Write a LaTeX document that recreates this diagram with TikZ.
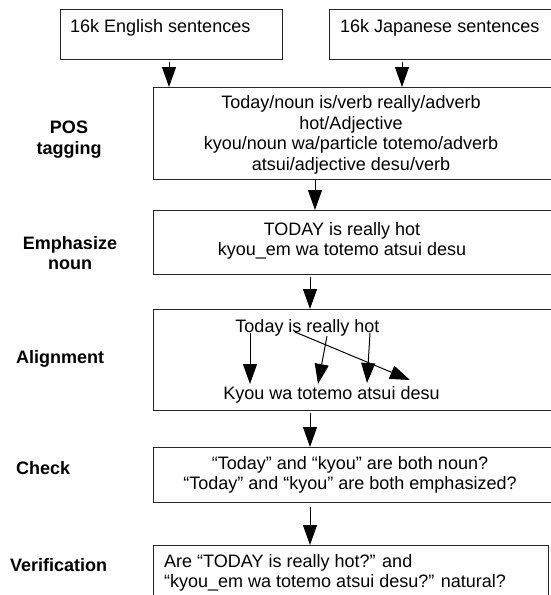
\documentclass[tikz,border=0pt]{standalone}
\usepackage{fontspec}
\setmainfont{Liberation Sans}
\usetikzlibrary{arrows.meta}
\begin{document}
\begin{tikzpicture}[x=1pt,y=-1pt,
  box/.style={draw=black!85, line width=1pt, anchor=north west, inner sep=0pt},
  txt/.style={font=\fontsize{18}{20.5}\selectfont, inner sep=0pt, text=black, align=center},
  lbl/.style={font=\fontsize{18}{20.5}\selectfont\bfseries, inner sep=0pt, text=black, align=center},
  arr/.style={line width=1pt, draw=black, -{Triangle[length=20pt 0 0,width=14pt 0 0]}},
]
\useasboundingbox (0,0) rectangle (551,595);
\clip (0,0) rectangle (551,595);

% boxes
\node[box, minimum width=222pt, minimum height=50pt] (box1) at (60,9) {};
\node[box, minimum width=240pt, minimum height=50pt] (box2) at (329,9) {};
\node[box, minimum width=420pt, minimum height=92pt] (pos) at (153,87) {};
\node[box, minimum width=420pt, minimum height=64pt] (emph) at (153,210) {};
\node[box, minimum width=420pt, minimum height=101pt] (align) at (153,309) {};
\node[box, minimum width=420pt, minimum height=55pt] (check) at (153,447) {};
\node[box, minimum width=395pt, minimum height=70pt] (verif) at (153,545) {};

% box texts
\node[txt, anchor=base west] (t1) at (70,32.3) {16k English sentences};
\node[txt, anchor=base west] (t2) at (340,32.3) {16k Japanese sentences};
\node[txt] (tpos) at (351,135) {Today/noun is/verb really/adverb\\hot/Adjective\\kyou/noun wa/particle totemo/adverb\\atsui/adjective desu/verb};
\node[txt] (temph) at (342,241) {TODAY is really hot\\kyou\_em wa totemo atsui desu};
\node[txt, anchor=base] (ten) at (307.5,332.5) {Today is really hot};
\node[txt, anchor=base] (tja) at (331.5,399.5) {Kyou wa totemo atsui desu};
\node[txt] (tcheck) at (350,475) {“Today” and “kyou” are both noun?\\“Today” and “kyou” are both emphasized?};
\node[txt, align=left, anchor=west] (tverif) at (164,573) {Are “TODAY is really hot?” and\\“kyou\_em wa totemo atsui desu?” natural?};

% side labels
\node[lbl] (lpos) at (69,139.5) {POS\\tagging};
\node[lbl] (lemph) at (70,253) {Emphasize\\noun};
\node[lbl, anchor=base west] (lalign) at (16,363.5) {Alignment};
\node[lbl, anchor=base west] (lcheck) at (16,474) {Check};
\node[lbl, anchor=base west] (lverif) at (10,571) {Verification};

% connectors between stages
\coordinate (c1) at (169,62);
\coordinate (c2) at (402,62);
\coordinate (c3) at (315,179);
\coordinate (c4) at (310,277);
\coordinate (c5) at (310,413);
\coordinate (c6) at (310,507);
\draw[arr] (c1) -- (c1 |- pos.north);
\draw[arr] (c2) -- (c2 |- pos.north);
\draw[arr] (c3) -- (c3 |- emph.north);
\draw[arr] (c4) -- (c4 |- align.north);
\draw[arr] (c5) -- (c5 |- check.north);
\draw[arr] (c6) -- (c6 |- verif.north);

% word alignment
\coordinate (s1) at (250,333); \coordinate (e1) at (250,384);
\coordinate (s2) at (327,336); \coordinate (e2) at (318,384);
\coordinate (s3) at (370,333); \coordinate (e3) at (367,383);
\coordinate (s4) at (295,332); \coordinate (e4) at (410,380);
\draw[arr] (s1) -- (e1);
\draw[arr] (s2) -- (e2);
\draw[arr] (s3) -- (e3);
\draw[arr] (s4) -- (e4);
\end{tikzpicture}
\end{document}
